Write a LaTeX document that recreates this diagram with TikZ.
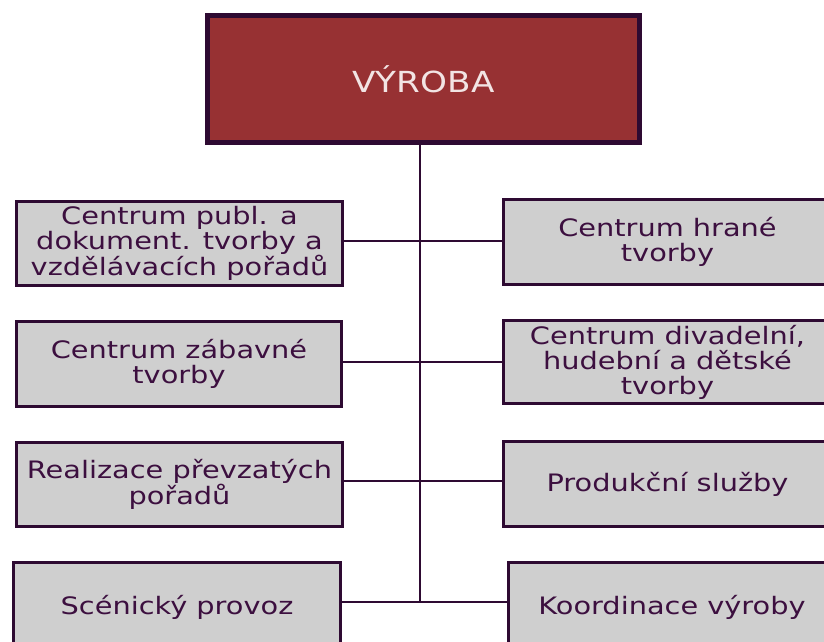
\documentclass[tikz,border=0pt]{standalone}
\usepackage{fontspec}
\setmainfont{DejaVu Sans}
\newfontfamily\boxfont[FakeStretch=1.2]{DejaVu Sans}
\newfontfamily\headfont[FakeStretch=1.18]{DejaVu Sans}
\definecolor{topfill}{HTML}{973133}
\definecolor{frame}{HTML}{2E0A32}
\definecolor{boxfill}{HTML}{CFCFCF}
\definecolor{ink}{HTML}{3C0F3F}
\definecolor{toptext}{HTML}{F2E4E4}
\begin{document}
\begin{tikzpicture}[x=1pt,y=-1pt,
  unit/.style={draw=frame, line width=3.2pt, fill=boxfill, text=ink,
    font=\boxfont\fontsize{24}{25}\selectfont, align=center, inner sep=0pt},
  headbox/.style={draw=frame, line width=5pt, fill=topfill, text=toptext,
    font=\headfont\fontsize{29}{30}\selectfont, inner sep=0pt},
  link/.style={draw=frame, line width=2.8pt}]
\useasboundingbox (0,0) rectangle (824,641);
\clip (0,0) rectangle (824,641);

\node[headbox, minimum width=432, minimum height=127] (top) at (423.5,79) {VÝROBA};

\node[unit, minimum width=326, minimum height=84] (L1) at (179.5,243.5) {Centrum publ. a\\dokument. tvorby a\\vzdělávacích pořadů};
\node[unit, minimum width=325, minimum height=85] (L2) at (179,364) {Centrum zábavné\\tvorby};
\node[unit, minimum width=326, minimum height=84] (L3) at (179.5,484.5) {Realizace převzatých\\pořadů};
\node[unit, minimum width=327, minimum height=89] (L4) at (177,607) {Scénický provoz};

\node[unit, minimum width=328, minimum height=85] (R1) at (667.5,242) {Centrum hrané\\tvorby};
\node[unit, minimum width=328, minimum height=83] (R2) at (667.5,362) {Centrum divadelní,\\hudební a dětské\\tvorby};
\node[unit, minimum width=328, minimum height=85] (R3) at (667.5,484) {Produkční služby};
\node[unit, minimum width=327, minimum height=89] (R4) at (672,607) {Koordinace výroby};

\coordinate (sT) at (420,145);
\coordinate (sB) at (420,602);
\coordinate (h1) at (420,241);
\coordinate (h2) at (420,362);
\coordinate (h3) at (420,481);
\draw[link] (sT) -- (sB);
\draw[link] (L1.east |- h1) -- (h1);
\draw[link] (h1) -- (R1.west |- h1);
\draw[link] (L2.east |- h2) -- (h2);
\draw[link] (h2) -- (R2.west |- h2);
\draw[link] (L3.east |- h3) -- (h3);
\draw[link] (h3) -- (R3.west |- h3);
\draw[link] (L4.east |- sB) -- (sB);
\draw[link] (sB) -- (R4.west |- sB);
\end{tikzpicture}
\end{document}
